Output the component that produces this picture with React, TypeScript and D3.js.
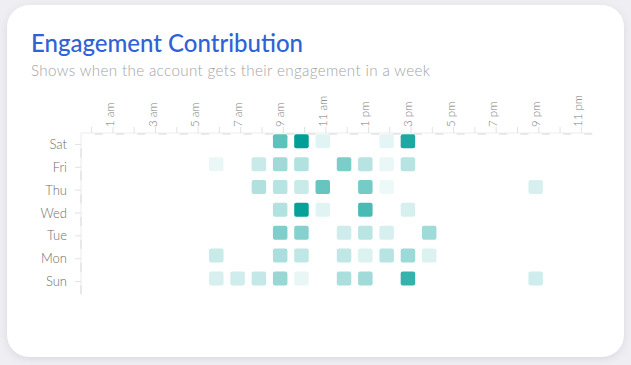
import React from "react";
import * as d3 from "d3";

const days = ["Sat", "Fri", "Thu", "Wed", "Tue", "Mon", "Sun"];
const hours = [0, 1, 2, 3, 4, 5, 6, 7, 8, 9, 10, 11, 12, 13, 14, 15, 16, 17, 18, 19, 20, 21, 22, 23];
const hourLabels = ["12 am", "1 am", "2 am", "3 am", "4 am", "5 am", "6 am", "7 am", "8 am", "9 am", "10 am", "11 am",
  "12 pm", "1 pm", "2 pm", "3 pm", "4 pm", "5 pm", "6 pm", "7 pm", "8 pm", "9 pm", "10 pm", "11 pm"];
const labelledHours = [1, 3, 5, 7, 9, 11, 13, 15, 17, 19, 21, 23];

// engagement share per hour (0 = none), one array per day
const sat = [0, 0, 0, 0, 0, 0, 0, 0, 0, 0.62, 1.0, 0.08, 0, 0, 0.06, 0.88, 0, 0, 0, 0, 0, 0, 0, 0];
const fri = [0, 0, 0, 0, 0, 0, 0.04, 0, 0.18, 0.35, 0.27, 0, 0.5, 0.25, 0.04, 0.25, 0, 0, 0, 0, 0, 0, 0, 0];
const thu = [0, 0, 0, 0, 0, 0, 0, 0, 0.28, 0.25, 0.18, 0.58, 0, 0.52, 0.03, 0, 0, 0, 0, 0, 0, 0.12, 0, 0];
const wed = [0, 0, 0, 0, 0, 0, 0, 0, 0, 0.27, 0.97, 0.08, 0, 0.7, 0, 0.12, 0, 0, 0, 0, 0, 0, 0, 0];
const tue = [0, 0, 0, 0, 0, 0, 0, 0, 0, 0.48, 0.45, 0, 0.16, 0.24, 0.12, 0, 0.34, 0, 0, 0, 0, 0, 0, 0];
const mon = [0, 0, 0, 0, 0, 0, 0.18, 0, 0, 0.3, 0.22, 0, 0.22, 0.1, 0.25, 0.36, 0.1, 0, 0, 0, 0, 0, 0, 0];
const sun = [0, 0, 0, 0, 0, 0, 0.12, 0.15, 0.2, 0.38, 0.05, 0, 0.3, 0.34, 0, 0.78, 0, 0, 0, 0, 0, 0.15, 0, 0];
const dayValues = [sat, fri, thu, wed, tue, mon, sun];

const W = 631;
const H = 365;
const FONT = "Lato, 'Noto Sans', sans-serif";

export default function App() {
  const x = d3.scaleBand<number>().domain(hours).range([81, 592]);
  const y = d3.scaleBand<string>().domain(days).range([133, 293]);
  const color = d3
    .scaleLinear<string>()
    .domain([0, 1])
    .range(["#f4fbfb", "#009e96"])
    .interpolate(d3.interpolateRgb);
  const bw = x.bandwidth();
  const bh = y.bandwidth();
  const cellW = 14.5;
  const cellH = 14;

  const cells: { d: string; h: number; v: number }[] = [];
  days.forEach((d, i) => {
    dayValues[i].forEach((v, h) => {
      if (v > 0) cells.push({ d, h, v });
    });
  });

  const x0 = x.range()[0];
  const x1 = x.range()[1];
  const y0 = y.range()[0];
  const y1 = y.range()[1];

  return (
    <svg width={W} height={H} style={{ position: "absolute", left: 0, top: 0 }}>
      <defs>
        <filter id="shadow" x="-10%" y="-10%" width="120%" height="120%">
          <feDropShadow dx="0" dy="2" stdDeviation="4" floodColor="#b9b9c8" floodOpacity="0.45" />
        </filter>
      </defs>
      <rect x={0} y={0} width={W} height={H} fill="#efeff3" />
      <rect x={7} y={5} width={617} height={352} rx={22} fill="#ffffff" filter="url(#shadow)" />

      <text x={31} y={52} fontFamily={FONT} fontSize={24} fontWeight={500} fill="#2f62d6"
        textLength={272} lengthAdjust="spacing">
        Engagement Contribution
      </text>
      <text x={31} y={76} fontFamily={FONT} fontSize={15.2} fontWeight={300} fill="#a3a3a3"
        textLength={399} lengthAdjust="spacing">
        Shows when the account gets their engagement in a week
      </text>

      {/* top axis */}
      <line x1={x0} x2={x1} y1={y0} y2={y0} stroke="#eeeeee" strokeWidth={1.2} />
      {hours.map((h) => (
        <g key={"xt" + h}>
          <line
            x1={(x(h) as number) + bw / 2}
            x2={(x(h) as number) + bw / 2}
            y1={y0}
            y2={y0 - 6}
            stroke="#e2e2e2"
          />
          <line
            x1={(x(h) as number) + bw / 2 + 3}
            x2={(x(h) as number) + bw / 2 + 11}
            y1={y0 + 1}
            y2={y0 + 1}
            stroke="#e3e3e3"
            strokeWidth={1.5}
          />
        </g>
      ))}
      {labelledHours.map((h) => {
        const cx = (x(h) as number) + bw / 2 + 1;
        return (
          <text
            key={"xl" + h}
            transform={`translate(${cx},127) rotate(-90)`}
            textAnchor="start"
            fontFamily={FONT}
            fontSize={11.5}
            fontWeight={300}
            fill="#7a7a7a"
          >
            {hourLabels[h]}
          </text>
        );
      })}

      {/* left axis */}
      <line x1={x0} x2={x0} y1={y0} y2={y1} stroke="#eeeeee" strokeWidth={1.2} />
      {days.map((d) => {
        const cy = (y(d) as number) + bh / 2;
        return (
          <g key={"yt" + d}>
            <line x1={x0 - 6} x2={x0} y1={cy} y2={cy} stroke="#e2e2e2" />
            <line x1={x0} x2={x0} y1={cy + 4} y2={cy + 13} stroke="#e3e3e3" strokeWidth={1.5} />
            <text
              x={67}
              y={cy}
              dy="0.35em"
              textAnchor="end"
              fontFamily={FONT}
              fontSize={13}
              fontWeight={300}
              fill="#6e6e6e"
            >
              {d}
            </text>
          </g>
        );
      })}

      {/* cells */}
      {cells.map((c) => (
        <rect
          key={c.d + c.h}
          x={(x(c.h) as number) + 0.3}
          y={(y(c.d) as number) + 1.3}
          width={cellW}
          height={cellH}
          rx={2}
          fill={color(c.v)}
        />
      ))}
    </svg>
  );
}
